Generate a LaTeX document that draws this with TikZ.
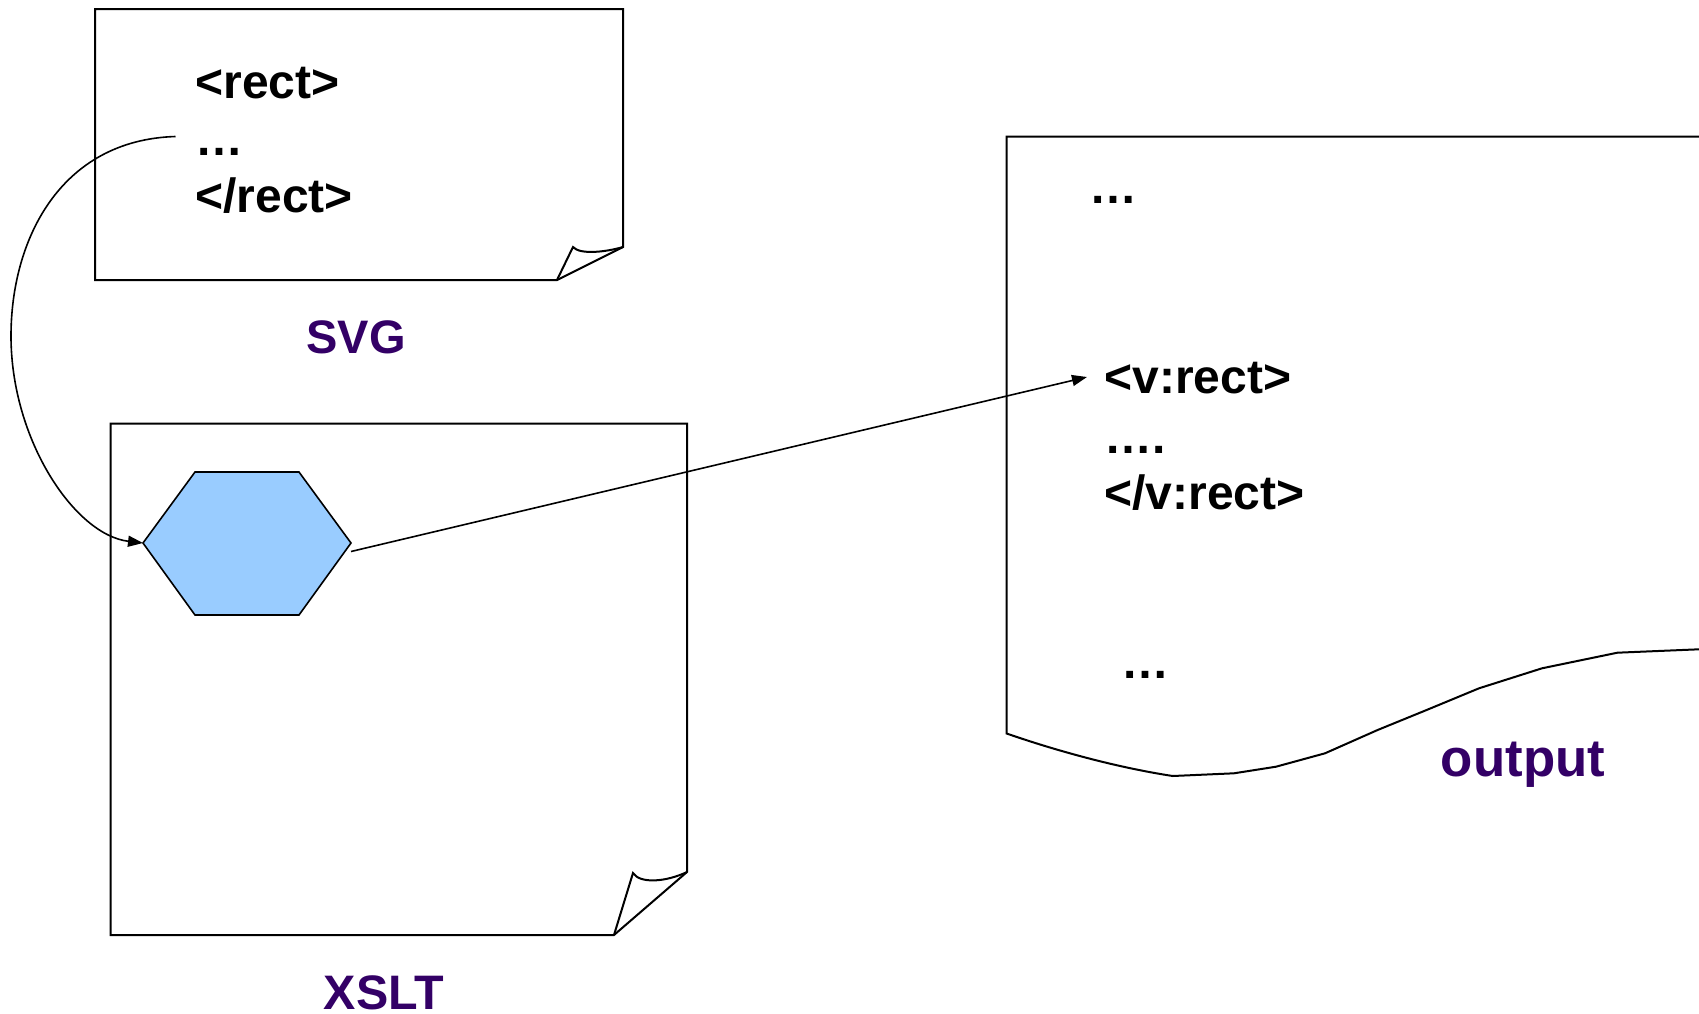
\documentclass[tikz,border=0pt]{standalone}
\usepackage{fontspec}
\setmainfont{Liberation Sans}
\usetikzlibrary{arrows.meta}
\definecolor{labelpurple}{HTML}{330066}
\definecolor{hexblue}{HTML}{99CCFF}
\begin{document}
\begin{tikzpicture}[x=0.5pt,y=-0.5pt,
  code/.style={font=\fontsize{24}{28}\selectfont\bfseries, anchor=base west, inner sep=0pt},
  caption/.style={font=\fontsize{23.5}{28}\selectfont\bfseries, anchor=base, inner sep=0pt, text=labelpurple},
  page/.style={line width=1pt, line join=miter},
  link/.style={line width=0.8pt, -{Triangle[length=7.5pt,width=5.5pt]}}]
\useasboundingbox (0,0) rectangle (1699,1013);

% SVG source page with a folded corner
\draw[page] (95,9) -- (623,9) -- (623,247) -- (557,280) -- (95,280) -- cycle;
\draw[page] (557,280) -- (573,247) .. controls (580,255) and (606,252) .. (623,247);
\node[code] (rectopen) at (195,98) {<rect>};
\node[code] (rectdots) at (195,155) {…};
\node[code] (rectclose) at (195,212) {</rect>};
\node[caption] (svglabel) at (356,353) {SVG};
\coordinate (srcstart) at (175.5,136.5);

% XSLT stylesheet page with the template hexagon
\draw[page] (110.5,423.5) -- (687,423.5) -- (687,872) -- (614,935) -- (110.5,935) -- cycle;
\draw[page] (614,935) -- (633,873) .. controls (640,884) and (666,882) .. (687,872);
\coordinate (hexL) at (143,543);
\coordinate (hexR) at (351,543);
\draw[line width=0.8pt, fill=hexblue] (hexL) -- (195,472) -- (299,472) -- (hexR) -- (299,615) -- (195,615) -- cycle;
\coordinate (hexout) at (351,551.5);
\node[caption, font=\fontsize{24.2}{28}\selectfont\bfseries] (xsltlabel) at (384,1009) {XSLT};

% Output document, torn along the bottom edge
\draw[page] (1699,136.5) -- (1006.6,136.5) -- (1006.6,733.5)
  .. controls (1060,752) and (1120,768) .. (1172.8,776)
  -- (1234,773.3) -- (1276,766.7) -- (1325,753.3) -- (1377.6,730)
  -- (1426.6,710) -- (1479,688.3) -- (1542,668.3) -- (1617.4,652.7)
  -- (1699,649.3);
\node[code] (outdots1) at (1089,203) {…};
\node[code] (vrectopen) at (1104,393) {<v:rect>};
\node[code] (vrectdots) at (1104,453) {….};
\node[code] (vrectclose) at (1104,509) {</v:rect>};
\node[code] (outdots2) at (1121,678) {…};
\node[caption, font=\fontsize{26.4}{30}\selectfont\bfseries] (outlabel) at (1523,776) {output};
\coordinate (vrectin) at (1087,377);

% Transformation connectors
\draw[link] (srcstart) .. controls (60,140) and (11,240) .. (11,336)
  .. controls (11,440) and (75,535) .. (hexL);
\draw[link] (hexout) -- (vrectin);
\end{tikzpicture}
\end{document}
